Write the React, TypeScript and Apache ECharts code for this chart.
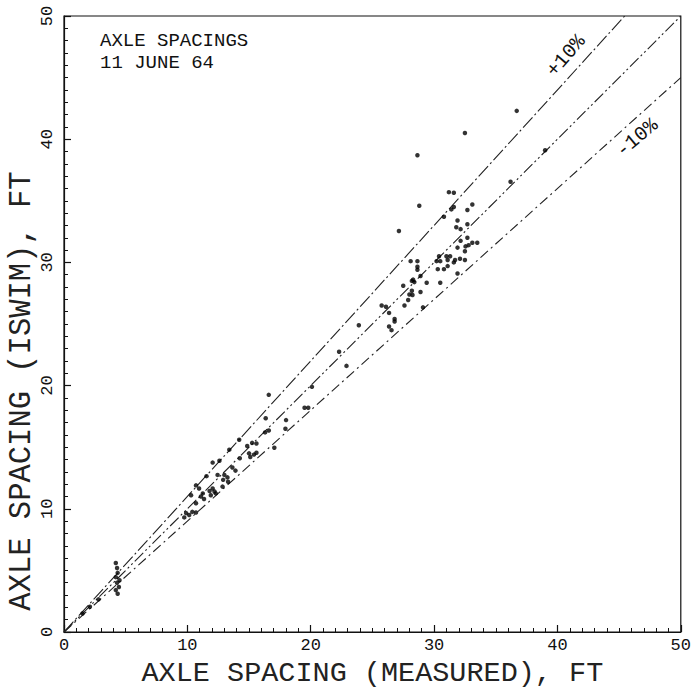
import React, { useEffect, useRef } from "react";
import * as echarts from "echarts";

const measured: number[] = [
  1.5, 2.1, 2.8,
  4.2, 4.3, 4.35, 4.2, 4.5, 4.3, 4.45, 4.2, 4.35,
  9.9, 10.15, 9.75, 10.4, 10.7, 10.7, 10.3, 11.25, 11.1, 11.35, 12.05, 11.8, 12.2, 11.9, 12.3,
  10.7, 10.95, 12.85, 11.55, 12.45, 13.0, 13.25, 12.9, 13.3, 13.65, 13.9, 12.6, 12.05, 14.25,
  15.0, 15.4, 15.6, 15.1, 14.85, 15.25, 15.6, 13.4, 14.2, 17.05, 16.6, 16.3, 17.95, 18.0, 16.35,
  16.6, 19.5, 19.8, 20.1, 22.3, 22.9, 23.9,
  26.35, 26.55, 26.8, 26.8, 26.35, 25.75, 26.1, 29.1, 27.6, 27.9, 28.0, 28.25, 28.9, 28.2, 27.5,
  29.4, 30.5, 28.2, 28.4, 28.3, 28.9, 31.9, 30.3, 30.8, 28.65, 28.65, 31.1, 31.6, 28.1, 28.65,
  30.2, 30.5, 31.1, 31.7, 32.1, 32.5, 30.4, 31.0, 31.3, 32.5, 31.9, 32.55, 32.8, 33.1, 33.5,
  32.15, 32.7, 27.15, 31.8, 32.15, 32.7, 31.9, 30.8, 31.6, 31.4, 33.1, 32.7, 28.8, 31.2, 31.6,
  36.2, 28.65, 39.0, 32.5, 36.7,
];

const iswim: number[] = [
  1.5, 2.05, 2.65,
  5.6, 5.2, 4.8, 4.45, 4.2, 4.0, 3.65, 3.4, 3.1,
  9.65, 9.5, 9.3, 9.75, 9.7, 10.45, 11.1, 11.25, 11.0, 10.8, 11.65, 11.45, 11.4, 11.1, 11.25,
  11.9, 11.65, 11.8, 12.65, 12.75, 12.75, 12.55, 12.35, 12.2, 13.35, 13.1, 13.9, 13.75, 14.1,
  14.5, 14.4, 14.55, 14.2, 15.1, 15.35, 15.3, 14.8, 15.6, 14.95, 16.35, 16.2, 16.5, 17.2, 17.35,
  19.25, 18.2, 18.2, 19.9, 22.75, 21.6, 24.9,
  24.8, 24.5, 25.4, 25.2, 25.9, 26.5, 26.4, 26.35, 26.5, 26.95, 27.4, 27.35, 27.6, 27.7, 28.1,
  28.35, 28.35, 28.5, 28.4, 28.6, 28.9, 29.1, 29.45, 29.45, 29.65, 29.4, 29.7, 30.0, 30.1, 30.1,
  30.1, 30.1, 30.2, 30.2, 30.3, 30.2, 30.5, 30.5, 30.5, 30.9, 31.2, 31.3, 31.4, 31.6, 31.6,
  31.75, 32.0, 32.55, 32.85, 32.7, 33.1, 33.4, 33.7, 34.5, 34.3, 34.7, 34.25, 34.6, 35.7, 35.65,
  36.55, 38.7, 39.1, 40.5, 42.3,
];

// reference lines: y = factor * x
const lineNames: string[] = ["+10%", "0%", "-10%"];
const lineFactors: number[] = [1.1, 1.0, 0.9];
const lineDash: number[][] = [
  [14, 3, 2, 3],
  [12, 3, 2, 3, 2, 3],
  [10, 4, 2, 4],
];
const axisMin = 0;
const axisMax = 50;
const tickInterval = 10;

const FONT = "Liberation Mono";

export default function App() {
  const ref = useRef<HTMLDivElement>(null);
  useEffect(() => {
    if (!ref.current) return;
    const chart = echarts.init(ref.current, undefined, { renderer: "svg" });

    const pts = measured.map((m, i) => [m, iswim[i]]);
    const lineSeries = lineFactors.map((f, i) => {
      const xEnd = Math.min(axisMax, axisMax / f);
      return {
        type: "line",
        name: lineNames[i],
        data: [
          [axisMin, axisMin * f],
          [xEnd, xEnd * f],
        ],
        symbol: "none",
        silent: true,
        lineStyle: { color: "#222", width: 1.1, type: lineDash[i] },
        z: 1,
      };
    });

    const axisCommon = {
      type: "value",
      min: axisMin,
      max: axisMax,
      interval: tickInterval,
      splitLine: { show: false },
      axisLine: { show: true, lineStyle: { color: "#111", width: 1.2 } },
      axisTick: { show: true, inside: true, length: 7, lineStyle: { color: "#111", width: 1.2 } },
      minorTick: { show: true, splitNumber: 10, length: 4, lineStyle: { color: "#111", width: 1 } },
      minorSplitLine: { show: false },
      nameLocation: "middle",
    };

    chart.setOption({
      animation: false,
      backgroundColor: "#fff",
      grid: {
        left: 64,
        right: 10,
        top: 16,
        bottom: 65,
        show: true,
        borderColor: "#111",
        borderWidth: 1.2,
      },
      xAxis: {
        ...axisCommon,
        name: "AXLE SPACING (MEASURED), FT",
        nameGap: 26,
        nameTextStyle: { fontFamily: FONT, fontSize: 28.5, color: "#222" },
        axisLabel: { fontFamily: FONT, fontSize: 17, color: "#111", margin: 5 },
      },
      yAxis: {
        ...axisCommon,
        name: "",
        axisLabel: { fontFamily: FONT, fontSize: 17, color: "#111", rotate: 90, margin: 8 },
      },
      series: [
        ...lineSeries,
        {
          type: "scatter",
          data: pts,
          symbol: "circle",
          symbolSize: 4.5,
          itemStyle: { color: "#000" },
          z: 3,
        },
      ],
      graphic: [
        {
          type: "text",
          x: 22,
          y: 391,
          rotation: Math.PI / 2,
          style: {
            text: "AXLE SPACING (ISWIM), FT",
            font: `30.5px '${FONT}'`,
            fill: "#222",
            align: "center",
            verticalAlign: "middle",
          },
        },
        {
          type: "text",
          x: 100,
          y: 40.5,
          style: {
            text: "AXLE SPACINGS",
            font: `19px '${FONT}'`,
            fill: "#111",
            verticalAlign: "middle",
          },
        },
        {
          type: "text",
          x: 100,
          y: 62.5,
          style: {
            text: "11 JUNE 64",
            font: `19px '${FONT}'`,
            fill: "#111",
            verticalAlign: "middle",
          },
        },
        {
          type: "text",
          x: 566,
          y: 56,
          rotation: (49 * Math.PI) / 180,
          style: {
            text: "+10%",
            font: `20px '${FONT}'`,
            fill: "#111",
            align: "center",
            verticalAlign: "middle",
          },
        },
        {
          type: "text",
          x: 637,
          y: 138,
          rotation: (40 * Math.PI) / 180,
          style: {
            text: "-10%",
            font: `20px '${FONT}'`,
            fill: "#111",
            align: "center",
            verticalAlign: "middle",
          },
        },
      ],
    });
    return () => chart.dispose();
  }, []);
  return (
    <div
      ref={ref}
      style={{ position: "fixed", left: 0, top: 0, width: 694, height: 697, background: "#fff" }}
    />
  );
}
